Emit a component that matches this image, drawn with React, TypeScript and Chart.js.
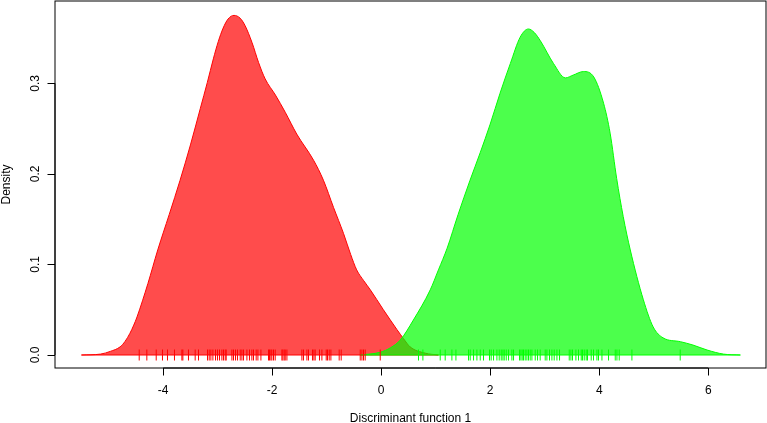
import React, { useEffect, useRef } from "react";
import { Chart, registerables } from "chart.js";

Chart.register(...registerables);

// Density estimate of group 1 (red)
const redX = [-5.5, -5.15, -4.97, -4.79, -4.7, -4.61, -4.54, -4.48, -4.28, -4.1, -3.89, -3.69, -3.5, -3.32, -3.19, -3.08, -2.99, -2.9, -2.81, -2.7, -2.59, -2.5, -2.37, -2.25, -2.13, -1.94, -1.76, -1.55, -1.24, -1.06, -0.875, -0.69, -0.56, -0.45, -0.32, -0.2, 0.04, 0.29, 0.41, 0.53, 0.81, 1.05];
const redDensity = [0, 0.001, 0.004, 0.009, 0.015, 0.024, 0.033, 0.042, 0.079, 0.116, 0.155, 0.193, 0.232, 0.272, 0.301, 0.327, 0.346, 0.361, 0.371, 0.375, 0.372, 0.364, 0.345, 0.323, 0.305, 0.287, 0.268, 0.244, 0.215, 0.193, 0.163, 0.134, 0.111, 0.094, 0.082, 0.072, 0.05, 0.028, 0.018, 0.009, 0.002, 0];

// Density estimate of group 2 (green)
const greenX = [-0.39, -0.02, 0.17, 0.35, 0.59, 0.9, 1.05, 1.21, 1.41, 1.63, 1.82, 2.0, 2.18, 2.37, 2.55, 2.7, 2.81, 2.92, 3.16, 3.38, 3.52, 3.71, 3.9, 4.08, 4.2, 4.32, 4.44, 4.57, 4.81, 4.99, 5.17, 5.49, 5.72, 5.98, 6.28, 6.59];
const greenDensity = [0, 0.003, 0.008, 0.0165, 0.0386, 0.072, 0.094, 0.118, 0.155, 0.193, 0.224, 0.255, 0.289, 0.322, 0.351, 0.36, 0.356, 0.347, 0.322, 0.306, 0.309, 0.313, 0.307, 0.278, 0.245, 0.195, 0.153, 0.116, 0.061, 0.031, 0.019, 0.0147, 0.011, 0.0055, 0.001, 0];

// Rug (individual observations)
const redRug = [-4.44, -4.3, -4.128, -4.013, -3.921, -3.793, -3.657, -3.639, -3.536, -3.413, -3.352, -3.187, -3.156, -3.125, -3.088, -3.04, -3.004, -2.967, -2.923, -2.894, -2.862, -2.844, -2.739, -2.71, -2.673, -2.637, -2.587, -2.556, -2.527, -2.464, -2.417, -2.373, -2.343, -2.294, -2.262, -2.207, -2.068, -2.05, -2.024, -2.006, -1.976, -1.945, -1.822, -1.804, -1.78, -1.761, -1.73, -1.455, -1.426, -1.363, -1.334, -1.261, -1.235, -1.211, -1.132, -1.088, -1.009, -0.985, -0.954, -0.923, -0.771, -0.734, -0.385, -0.354, -0.325, -0.294, -0.018];
const greenRug = [0.684, 0.765, 1.083, 1.174, 1.297, 1.371, 1.602, 1.633, 1.694, 1.756, 1.817, 1.877, 1.987, 2.018, 2.061, 2.123, 2.165, 2.202, 2.233, 2.257, 2.294, 2.336, 2.398, 2.428, 2.538, 2.563, 2.587, 2.611, 2.642, 2.673, 2.703, 2.734, 2.765, 2.826, 2.868, 2.917, 3.009, 3.04, 3.088, 3.132, 3.174, 3.224, 3.272, 3.45, 3.481, 3.51, 3.572, 3.62, 3.67, 3.694, 3.725, 3.761, 3.785, 3.853, 3.895, 3.958, 3.987, 4.05, 4.171, 4.294, 4.325, 4.367, 4.6, 5.486];

const xTicks = [-4, -2, 0, 2, 4, 6];
const yTicks = [0, 0.1, 0.2, 0.3];
const xTickLabels = ["-4", "-2", "0", "2", "4", "6"];
const yTickLabels = ["0.0", "0.1", "0.2", "0.3"];
const xTitle = "Discriminant function 1";
const yTitle = "Density";

const FONT = '12px "Liberation Sans", Arial, Helvetica, sans-serif';

const axesPlugin = {
  id: "rAxes",
  afterDraw(chart: any) {
    const { ctx, chartArea: ca } = chart;
    const xs = chart.scales.x;
    const ys = chart.scales.y;
    ctx.save();
    ctx.strokeStyle = "#000";
    ctx.lineWidth = 1;
    // box
    ctx.strokeRect(ca.left, ca.top, ca.right - ca.left, ca.bottom - ca.top);
    // x axis
    ctx.beginPath();
    ctx.moveTo(xs.getPixelForValue(xTicks[0]), ca.bottom);
    ctx.lineTo(xs.getPixelForValue(xTicks[xTicks.length - 1]), ca.bottom);
    xTicks.forEach((t) => {
      const px = Math.round(xs.getPixelForValue(t)) + 0.5;
      ctx.moveTo(px, ca.bottom);
      ctx.lineTo(px, ca.bottom + 7.5);
    });
    // y axis
    ctx.moveTo(ca.left, ys.getPixelForValue(yTicks[0]));
    ctx.lineTo(ca.left, ys.getPixelForValue(yTicks[yTicks.length - 1]));
    yTicks.forEach((t) => {
      const py = Math.round(ys.getPixelForValue(t)) + 0.5;
      ctx.moveTo(ca.left, py);
      ctx.lineTo(ca.left - 7.5, py);
    });
    ctx.stroke();

    ctx.fillStyle = "#000";
    ctx.font = FONT;
    ctx.textAlign = "center";
    ctx.textBaseline = "alphabetic";
    xTicks.forEach((t, i) => {
      ctx.fillText(xTickLabels[i], xs.getPixelForValue(t), ca.bottom + 26);
    });
    yTicks.forEach((t, i) => {
      ctx.save();
      ctx.translate(ca.left - 16.5, ys.getPixelForValue(t));
      ctx.rotate(-Math.PI / 2);
      ctx.fillText(yTickLabels[i], 0, 0);
      ctx.restore();
    });
    ctx.fillText(xTitle, (ca.left + ca.right) / 2, ca.bottom + 53.5);
    ctx.save();
    ctx.translate(10, (ca.top + ca.bottom) / 2);
    ctx.rotate(-Math.PI / 2);
    ctx.fillText(yTitle, 0, 0);
    ctx.restore();
    ctx.restore();
  },
};

export default function App() {
  const ref = useRef<HTMLCanvasElement | null>(null);

  useEffect(() => {
    if (!ref.current) return;
    const toPts = (xs: number[], ys: number[]) => xs.map((x, i) => ({ x, y: ys[i] }));
    const rugPts = (xs: number[]) => xs.map((x) => ({ x, y: 0 }));
    const chart = new Chart(ref.current, {
      type: "line",
      data: {
        datasets: [
          {
            label: "red",
            data: toPts(redX, redDensity),
            borderColor: "#FF0000",
            backgroundColor: "rgba(255,0,0,0.7)",
            borderWidth: 1,
            fill: "origin",
            pointRadius: 0,
            cubicInterpolationMode: "monotone",
            order: 5,
          },
          {
            label: "redBase",
            data: [{ x: redX[0], y: 0 }, { x: redX[redX.length - 1], y: 0 }],
            borderColor: "#FF0000",
            borderWidth: 1,
            fill: false,
            pointRadius: 0,
            order: 4,
          },
          {
            label: "green",
            data: toPts(greenX, greenDensity),
            borderColor: "#00FF00",
            backgroundColor: "rgba(0,255,0,0.7)",
            borderWidth: 1,
            fill: "origin",
            pointRadius: 0,
            cubicInterpolationMode: "monotone",
            order: 3,
          },
          {
            label: "greenBase",
            data: [{ x: greenX[0], y: 0 }, { x: greenX[greenX.length - 1], y: 0 }],
            borderColor: "#00FF00",
            borderWidth: 1,
            fill: false,
            pointRadius: 0,
            order: 2,
          },
          {
            type: "scatter",
            label: "redRug",
            data: rugPts(redRug),
            showLine: false,
            pointStyle: "line",
            rotation: 90,
            pointRadius: 5.5,
            borderColor: "#FF0000",
            borderWidth: 1,
            order: 1,
          },
          {
            type: "scatter",
            label: "greenRug",
            data: rugPts(greenRug),
            showLine: false,
            pointStyle: "line",
            rotation: 90,
            pointRadius: 5.5,
            borderColor: "#00FF00",
            borderWidth: 1,
            order: 0,
          },
        ] as any,
      },
      options: {
        animation: false,
        responsive: false,
        devicePixelRatio: 1,
        layout: { autoPadding: false, padding: { left: 55, right: 1, top: 1, bottom: 55 } },
        plugins: { legend: { display: false }, tooltip: { enabled: false } },
        events: [],
        scales: {
          x: { type: "linear", display: false, min: -5.985, max: 7.06 },
          y: { type: "linear", display: false, min: -0.01435, max: 0.3909 },
        },
      },
      plugins: [axesPlugin],
    } as any);
    return () => chart.destroy();
  }, []);

  return (
    <div style={{ position: "absolute", left: 0, top: 0, width: 767, height: 423, background: "#fff" }}>
      <canvas ref={ref} width={767} height={423} style={{ display: "block" }} />
    </div>
  );
}
